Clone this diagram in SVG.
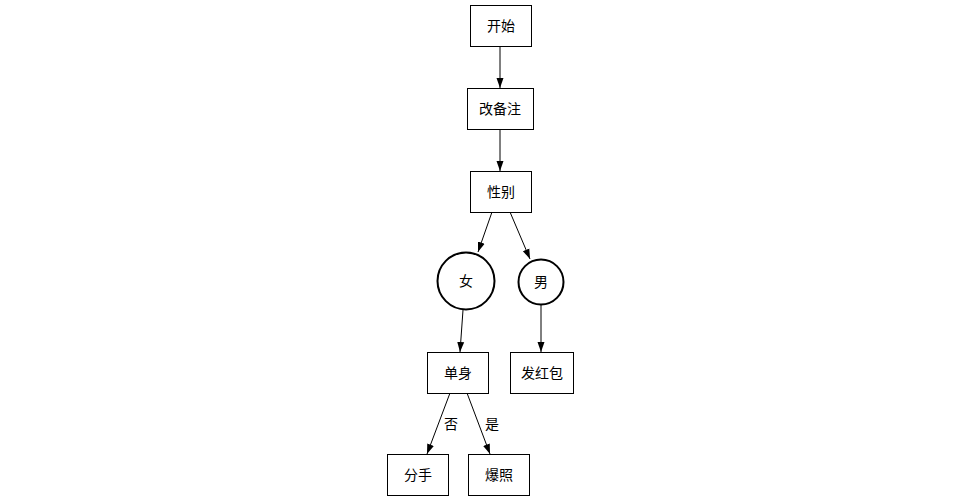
<svg xmlns="http://www.w3.org/2000/svg" width="960" height="500" viewBox="0 0 960 500">
<style>
.n rect,.n circle{fill:#fff;stroke:#000;stroke-width:1}
.n circle{stroke-width:2}
text{font-family:"Liberation Sans","Noto Sans CJK SC",sans-serif;font-size:14px;text-anchor:middle;dominant-baseline:central;fill:#000}
.e line{stroke:#000;stroke-width:1;marker-end:url(#a)}
</style>
<defs><marker id="a" viewBox="0 0 10 10" refX="10" refY="5" markerWidth="10" markerHeight="10" markerUnits="userSpaceOnUse" orient="auto"><path d="M0,1.5L10,5L0,8.5z" fill="#000"/></marker></defs>
<rect width="960" height="500" fill="#fff"/>
<g class="e">
<line x1="500" y1="46" x2="500" y2="88"/>
<line x1="500" y1="129" x2="500" y2="171"/>
<line x1="492" y1="212" x2="478" y2="252"/>
<line x1="510" y1="212" x2="530" y2="259"/>
<line x1="463" y1="310" x2="460" y2="352"/>
<line x1="541" y1="305" x2="541" y2="352"/>
<line x1="450" y1="393" x2="427" y2="454"/>
<line x1="467" y1="393" x2="490" y2="454"/>
<text x="451" y="424">否</text>
<text x="492" y="424">是</text>
</g>
<g id="start" class="n"><rect x="470.5" y="5.5" width="61" height="41"/><text x="501" y="26">开始</text></g>
<g id="remark" class="n"><rect x="467.5" y="88.5" width="66" height="41"/><text x="500" y="109">改备注</text></g>
<g id="gender" class="n"><rect x="470.5" y="171.5" width="61" height="41"/><text x="501" y="192">性别</text></g>
<g id="female" class="n"><circle cx="466" cy="281" r="28.5"/><text x="466" y="281">女</text></g>
<g id="male" class="n"><circle cx="541" cy="282" r="22.5"/><text x="541" y="282">男</text></g>
<g id="single" class="n"><rect x="427.5" y="352.5" width="61" height="41"/><text x="458" y="373">单身</text></g>
<g id="redpacket" class="n"><rect x="510.5" y="352.5" width="63" height="41"/><text x="542" y="373">发红包</text></g>
<g id="breakup" class="n"><rect x="387.5" y="454.5" width="61" height="41"/><text x="418" y="475">分手</text></g>
<g id="photo" class="n"><rect x="468.5" y="454.5" width="61" height="41"/><text x="499" y="475">爆照</text></g>
</svg>
